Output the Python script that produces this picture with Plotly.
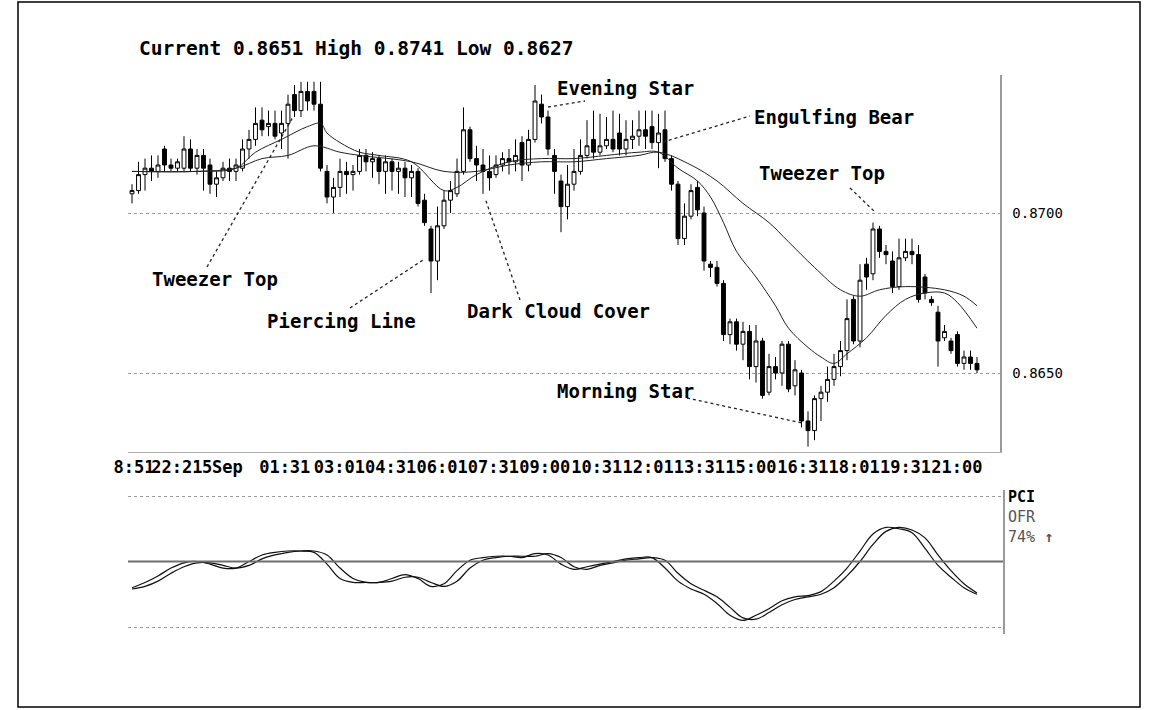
import plotly.graph_objects as go

W, H = 1150, 710


def px(x):
    return x / W


def py(y):
    return 1 - y / H


MONO = "DejaVu Sans Mono"

# ---------------- data ----------------
candle_idx = list(range(131))

opens = [
    .8706, .8707, .8712, .8714, .8713, .8720, .8715, .8714, .8714, .8720,
    .8714, .8718, .8715, .8709, .8711, .8714, .8713, .8714, .8720, .8723,
    .8729, .8727, .8728, .8725, .8728, .8737, .8732, .8738, .8738, .8734,
    .8713, .8705, .8708, .8713, .8712, .8713, .8718, .8716, .8717, .8713,
    .8716, .8713, .8714, .8711, .8713, .8704, .8695, .8685, .8696, .8704,
    .8706, .8713, .8726, .8717, .8715, .8713, .8712, .8715, .8717, .8716,
    .8722, .8715, .8723, .8734, .8730, .8718, .8710, .8702, .8709, .8713,
    .8718, .8723, .8719, .8721, .8723, .8725, .8720, .8723, .8724, .8726,
    .8727, .8722, .8726, .8717, .8709, .8692, .8699, .8708, .8700, .8684,
    .8683, .8678, .8662, .8666, .8659, .8663, .8652, .8660, .8644, .8652,
    .8650, .8659, .8646, .8650, .8635, .8632, .8642, .8644, .8648, .8652,
    .8657, .8673, .8660, .8684, .8681, .8695, .8688, .8685, .8677, .8686,
    .8688, .8687, .8680, .8673, .8669, .8661, .8660, .8662, .8653, .8655,
    .8653]

highs = [
    .8709, .8716, .8717, .8718, .8718, .8721, .8717, .8717, .8724, .8723,
    .8720, .8720, .8717, .8713, .8716, .8717, .8717, .8723, .8726, .8733,
    .8733, .8732, .8732, .8732, .8737, .8740, .8741, .8741, .8741, .8741,
    .8715, .8711, .8717, .8716, .8715, .8720, .8720, .8719, .8718, .8718,
    .8717, .8716, .8716, .8715, .8714, .8706, .8696, .8702, .8707, .8710,
    .8717, .8733, .8727, .8721, .8720, .8718, .8718, .8719, .8720, .8723,
    .8724, .8726, .8740, .8737, .8732, .8720, .8712, .8715, .8720, .8723,
    .8729, .8732, .8731, .8730, .8732, .8731, .8729, .8729, .8732, .8732,
    .8732, .8731, .8732, .8718, .8710, .8703, .8709, .8710, .8702, .8685,
    .8685, .8679, .8667, .8667, .8666, .8665, .8665, .8661, .8656, .8655,
    .8660, .8660, .8654, .8651, .8638, .8643, .8646, .8652, .8656, .8660,
    .8673, .8674, .8684, .8686, .8697, .8696, .8690, .8688, .8692, .8692,
    .8692, .8690, .8681, .8674, .8671, .8665, .8661, .8663, .8657, .8657,
    .8655]

lows = [
    .8703, .8706, .8707, .8710, .8711, .8713, .8713, .8713, .8713, .8713,
    .8712, .8707, .8706, .8705, .8710, .8710, .8710, .8713, .8717, .8721,
    .8724, .8724, .8723, .8720, .8717, .8730, .8730, .8732, .8732, .8713,
    .8703, .8700, .8705, .8706, .8707, .8712, .8713, .8711, .8709, .8706,
    .8707, .8706, .8705, .8705, .8702, .8696, .8675, .8679, .8695, .8700,
    .8705, .8712, .8716, .8710, .8706, .8707, .8711, .8713, .8712, .8713,
    .8710, .8713, .8722, .8728, .8718, .8706, .8694, .8698, .8707, .8712,
    .8717, .8717, .8718, .8720, .8719, .8718, .8718, .8720, .8721, .8720,
    .8720, .8714, .8716, .8707, .8690, .8690, .8698, .8699, .8682, .8680,
    .8677, .8660, .8659, .8657, .8654, .8648, .8647, .8642, .8643, .8648,
    .8646, .8644, .8643, .8633, .8627, .8629, .8635, .8641, .8646, .8649,
    .8654, .8659, .8658, .8676, .8679, .8686, .8684, .8675, .8676, .8685,
    .8684, .8672, .8673, .8671, .8652, .8660, .8656, .8652, .8651, .8651,
    .8650]

closes = [
    .8707, .8712, .8714, .8713, .8715, .8715, .8714, .8716, .8720, .8714,
    .8718, .8714, .8709, .8711, .8714, .8713, .8715, .8720, .8723, .8728,
    .8726, .8728, .8724, .8728, .8734, .8732, .8738, .8735, .8734, .8714,
    .8705, .8708, .8713, .8712, .8713, .8718, .8716, .8717, .8713, .8716,
    .8713, .8714, .8711, .8713, .8703, .8697, .8685, .8696, .8704, .8707,
    .8713, .8726, .8717, .8715, .8713, .8711, .8715, .8717, .8716, .8718,
    .8715, .8723, .8735, .8730, .8720, .8713, .8702, .8709, .8713, .8718,
    .8721, .8719, .8721, .8723, .8720, .8720, .8723, .8724, .8726, .8724,
    .8722, .8725, .8717, .8709, .8692, .8699, .8707, .8701, .8685, .8683,
    .8678, .8662, .8666, .8659, .8663, .8652, .8660, .8643, .8652, .8650,
    .8659, .8645, .8651, .8635, .8632, .8642, .8644, .8648, .8652, .8657,
    .8667, .8660, .8679, .8680, .8695, .8688, .8687, .8677, .8686, .8688,
    .8687, .8673, .8675, .8672, .8660, .8663, .8657, .8653, .8655, .8653,
    .8651]

# moving averages (candle index, price)
ma_slow_idx = [0, 10, 16, 20, 24, 28, 32, 35, 43, 48, 53, 58, 63, 68, 73, 78, 81,
               86, 90, 94, 98, 101, 105, 109, 112, 115, 119, 125, 128, 130]
ma_slow = [.8713, .8713, .8714, .8717, .8718, .8721, .8719, .8718, .8716, .8713,
           .8713, .8715, .8716, .8716, .8717, .8718, .8719, .8715, .8710, .8703,
           .8697, .8691, .8683, .8676, .8674, .8676, .8677, .8676, .8674, .8671]

ma_fast_idx = [0, 10, 16, 19, 23, 27, 29, 30, 32, 35, 38, 43, 48, 50, 53, 58, 63,
               68, 73, 78, 81, 84, 87, 89, 91, 93, 96, 99, 101, 104, 106, 108, 110,
               113, 116, 119, 122, 125, 127, 130]
ma_fast = [.8713, .8713, .8714, .8719, .8723, .8727, .8728, .8725, .8722, .8719,
           .8718, .8716, .8707, .8708, .8712, .8716, .8717, .8717, .8718, .8719,
           .8719, .8714, .8710, .8705, .8697, .8688, .8680, .8671, .8664, .8658,
           .8655, .8653, .8656, .8661, .8668, .8673, .8675, .8675, .8672, .8664]

# PCI oscillator (every second candle)
pci_idx = list(range(0, 131, 2))
pci_line = [30, 34, 39, 45, 49, 50, 48, 45, 45, 50, 55, 57, 58, 58, 57, 48, 37, 34,
            34, 34, 37, 40, 37, 31, 33, 43, 51, 53, 54, 54, 53, 56, 55, 48, 44, 46,
            48, 50, 52, 53, 53, 45, 35, 29, 25, 18, 9, 5, 9, 14, 20, 23, 24, 27,
            35, 45, 58, 71, 76, 75, 72, 60, 47, 38, 30, 25]
pci_signal = [29, 31, 35, 41, 46, 49, 49, 47, 45, 47, 52, 55, 57, 58, 58, 55, 45, 37,
              34, 34, 35, 38, 38, 34, 31, 35, 45, 51, 53, 54, 54, 54, 56, 53, 46, 44,
              47, 49, 51, 52, 53, 51, 41, 33, 28, 23, 15, 7, 6, 11, 17, 21, 23, 25,
              30, 39, 50, 63, 73, 76, 74, 68, 55, 43, 33, 26]

time_labels = ["8:51", "22:21", "5Sep", "01:31", "03:01", "04:31", "06:01", "07:31",
               "09:00", "10:31", "12:01", "13:31", "15:00", "16:31", "18:01",
               "19:31", "21:00"]
time_label_pos = [0.3, 6.9, 13.9, 23.5, 31.9, 39.8, 47.7, 55.6, 63.5, 71.5, 79.4,
                  87.3, 95.2, 103.2, 111.1, 119.0, 126.9]

price_ticks = [0.8650, 0.8700]
price_tick_labels = ["0.8650", "0.8700"]

title_text = "Current 0.8651 High 0.8741 Low 0.8627"

# pattern labels: (text, left px, centre px, leader line x0, y0, x1, y1)
patterns = [
    ("Evening Star", 555, 88, 548, 107, 585, 101),
    ("Engulfing Bear", 752, 117, 663, 142, 750, 116),
    ("Tweezer Top", 757, 173, 850, 188, 875, 212),
    ("Tweezer Top", 150, 279, 207, 267, 293, 117),
    ("Piercing Line", 265, 321, 350, 308, 423, 260),
    ("Dark Cloud Cover", 465, 311, 520, 300, 485, 198),
    ("Morning Star", 555, 391, 687, 398, 802, 423),
]

# ---------------- figure ----------------
fig = go.Figure()

fig.add_trace(go.Candlestick(
    x=candle_idx, open=opens, high=highs, low=lows, close=closes,
    increasing=dict(line=dict(color="black", width=1), fillcolor="white"),
    decreasing=dict(line=dict(color="black", width=1), fillcolor="black"),
    whiskerwidth=0, xaxis="x", yaxis="y", showlegend=False, hoverinfo="skip"))

fig.add_trace(go.Scatter(x=ma_slow_idx, y=ma_slow, mode="lines",
                         line=dict(color="#222", width=1, shape="spline"),
                         xaxis="x", yaxis="y", showlegend=False, hoverinfo="skip"))
fig.add_trace(go.Scatter(x=ma_fast_idx, y=ma_fast, mode="lines",
                         line=dict(color="#222", width=1, shape="spline"),
                         xaxis="x", yaxis="y", showlegend=False, hoverinfo="skip"))

fig.add_trace(go.Scatter(x=pci_idx, y=pci_signal, mode="lines",
                         line=dict(color="#111", width=1.2, shape="spline"),
                         xaxis="x2", yaxis="y2", showlegend=False, hoverinfo="skip"))
fig.add_trace(go.Scatter(x=pci_idx, y=pci_line, mode="lines",
                         line=dict(color="#111", width=1.2, shape="spline"),
                         xaxis="x2", yaxis="y2", showlegend=False, hoverinfo="skip"))

# pixel -> data mapping for axes
step = 6.5
x0_px = 132


def idx_at(xp):
    return (xp - x0_px) / step


def price_at(yp):
    return 0.8700 + (213 - yp) / 32000.0


def osc_at(yp):
    return (627 - yp) / 1.31


fig.update_layout(
    width=W, height=H,
    margin=dict(l=0, r=0, t=0, b=0, pad=0, autoexpand=False),
    paper_bgcolor="white", plot_bgcolor="white",
    showlegend=False,
    boxgap=0.15,
    xaxis=dict(domain=[px(128), px(1000)], range=[idx_at(128), idx_at(1000)],
               anchor="y", rangeslider=dict(visible=False), automargin=False,
               tickmode="array", tickvals=time_label_pos, ticktext=time_labels,
               tickangle=0,
               tickfont=dict(family=MONO, size=17, color="black", weight="bold"),
               ticks="", showgrid=False, zeroline=False,
               showline=True, linecolor="#b0b0b0", linewidth=1),
    yaxis=dict(domain=[py(452), py(75)], range=[price_at(452), price_at(75)],
               anchor="x", side="right", automargin=False,
               tickmode="array", tickvals=price_ticks, ticktext=price_tick_labels,
               tickfont=dict(family=MONO, size=14, color="black"),
               ticks="", ticklabelstandoff=8,
               showgrid=True, gridcolor="#9a9a9a", griddash="dot", gridwidth=1,
               zeroline=False, showline=True, linecolor="#9a9a9a", linewidth=1.5),
    xaxis2=dict(domain=[px(128), px(1003)], range=[idx_at(128), idx_at(1003)],
                anchor="y2", showticklabels=False, ticks="", showgrid=False,
                automargin=False, zeroline=False, showline=False),
    yaxis2=dict(domain=[py(634), py(490)], range=[osc_at(634), osc_at(490)],
                anchor="x2", side="right", tickmode="array", tickvals=[0, 100],
                showticklabels=False, ticks="", automargin=False,
                showgrid=True, gridcolor="#9a9a9a", griddash="dot", gridwidth=1,
                zeroline=False, showline=True, linecolor="#9a9a9a", linewidth=1.5),
)

shapes = []
# frame
shapes.append(dict(type="rect", xref="paper", yref="paper",
                   x0=px(18), x1=px(1140), y0=py(707), y1=py(2),
                   line=dict(color="black", width=1.5)))
# oscillator centre line
shapes.append(dict(type="line", xref="x2 domain", yref="y2", x0=0, x1=1, y0=50, y1=50,
                   line=dict(color="#6e6e6e", width=2)))
annotations = []
for text, tx, ty, lx0, ly0, lx1, ly1 in patterns:
    annotations.append(dict(text=text, xref="paper", yref="paper",
                            x=px(tx), y=py(ty), xanchor="left", yanchor="middle",
                            showarrow=False,
                            font=dict(family=MONO, size=19, color="black", weight="bold")))
    shapes.append(dict(type="line", xref="paper", yref="paper",
                       x0=px(lx0), y0=py(ly0), x1=px(lx1), y1=py(ly1),
                       line=dict(color="#222", width=1.3, dash="dot")))

annotations.append(dict(text=title_text, xref="paper", yref="paper",
                        x=px(137), y=py(48), xanchor="left", yanchor="middle",
                        showarrow=False,
                        font=dict(family=MONO, size=19.5, color="black", weight="bold")))
annotations.append(dict(text="PCI", xref="paper", yref="paper", x=px(1006), y=py(497),
                        xanchor="left", yanchor="middle", showarrow=False,
                        font=dict(family=MONO, size=15, color="black", weight="bold")))
annotations.append(dict(text="OFR", xref="paper", yref="paper", x=px(1006), y=py(517),
                        xanchor="left", yanchor="middle", showarrow=False,
                        font=dict(family=MONO, size=15, color="#555")))
annotations.append(dict(text="74% <b>↑</b>", xref="paper", yref="paper", x=px(1006), y=py(537),
                        xanchor="left", yanchor="middle", showarrow=False,
                        font=dict(family=MONO, size=15, color="#555")))

fig.update_layout(shapes=shapes, annotations=annotations)

fig.write_html("out.html", config={"displayModeBar": False, "staticPlot": True},
               post_script="document.body.style.margin='0';document.body.style.overflow='hidden';")
